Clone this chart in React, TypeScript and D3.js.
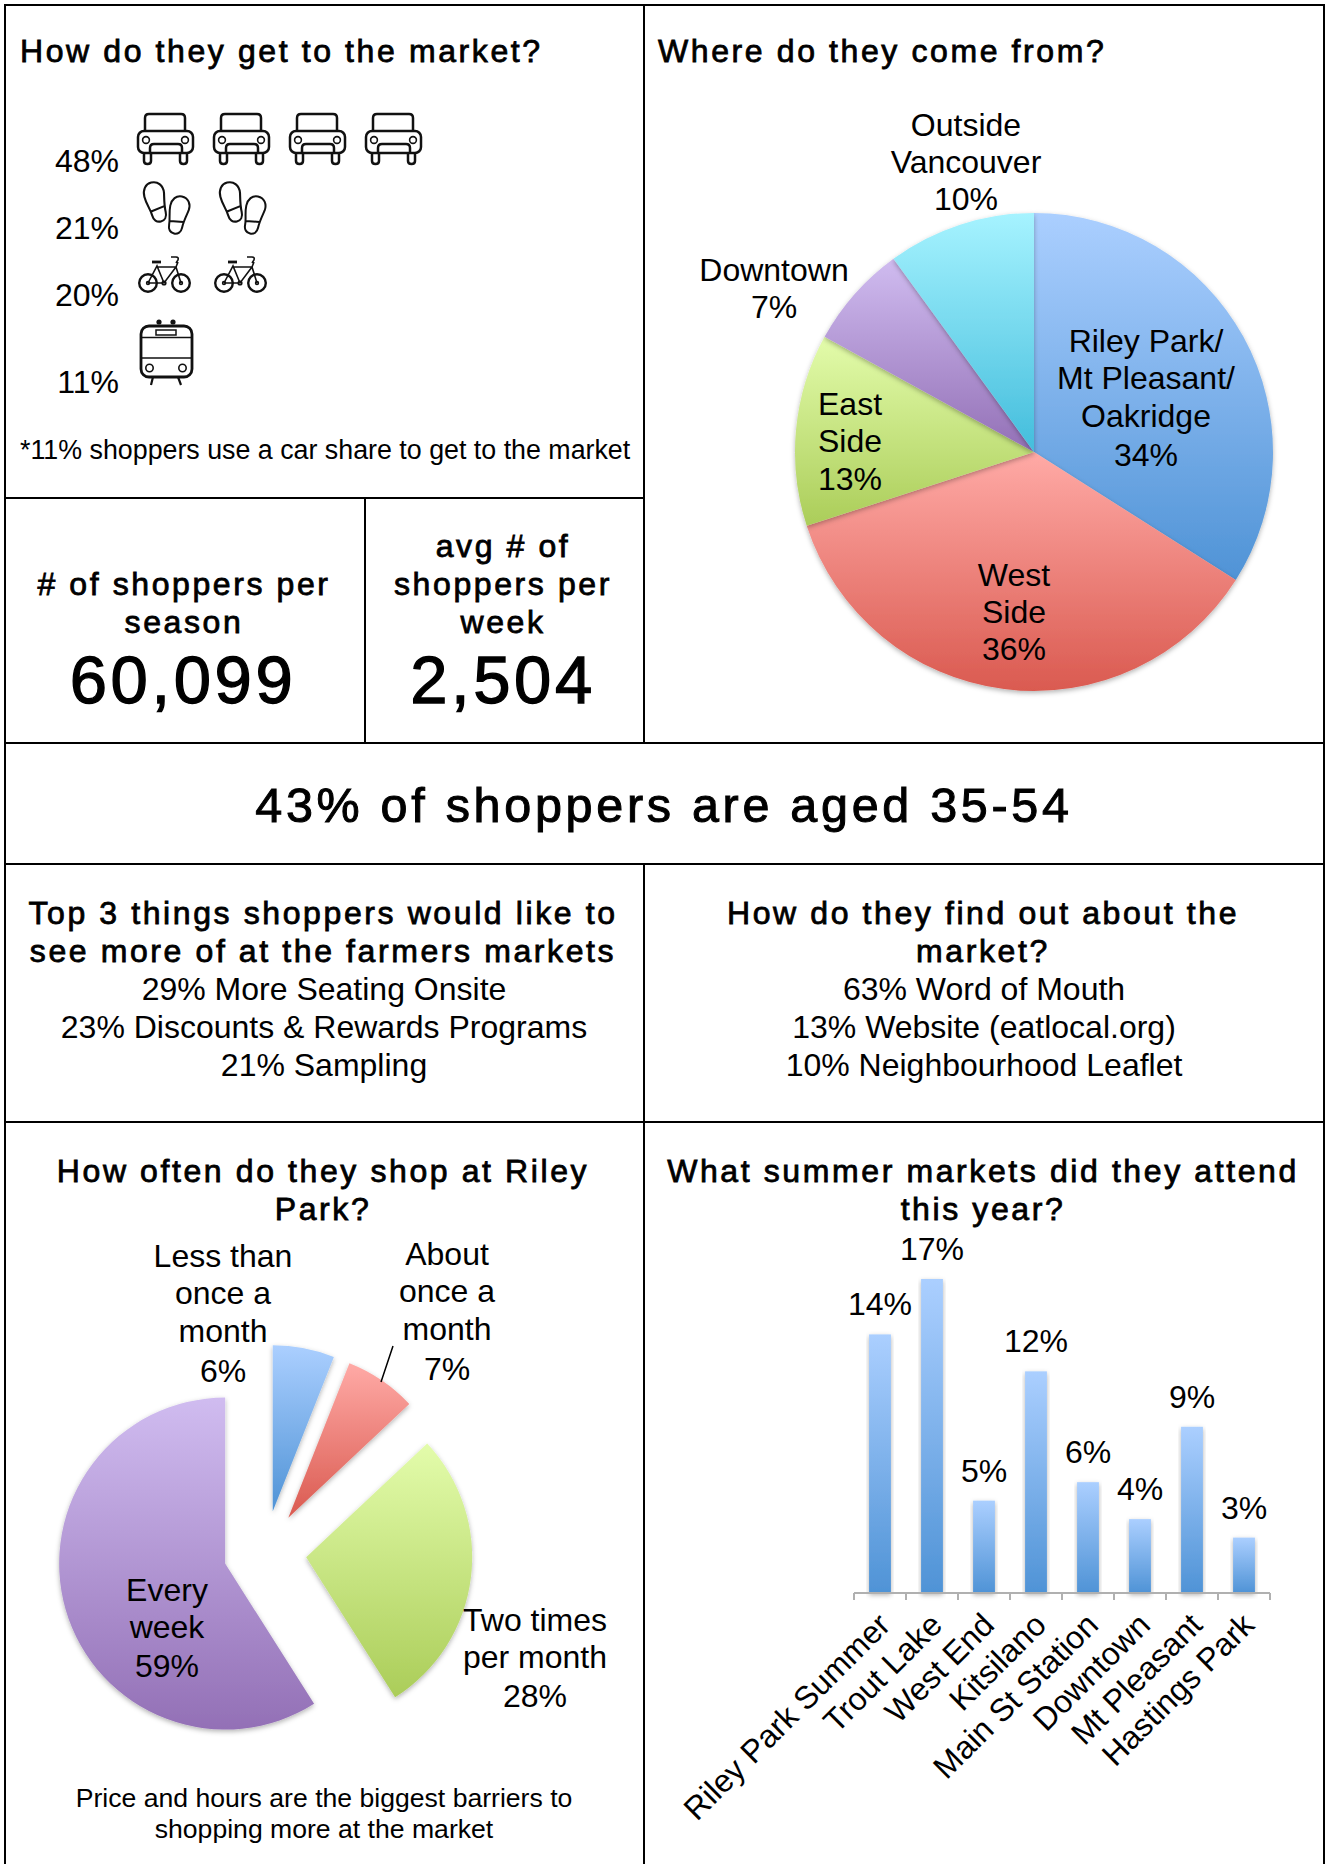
import React from "react";
import * as d3 from "d3";

// Survey figures
const originLabels = [["Riley Park/", "Mt Pleasant/", "Oakridge", "34%"], ["West", "Side", "36%"], ["East", "Side", "13%"], ["Downtown", "7%"], ["Outside", "Vancouver", "10%"]];
const originValues = [34, 36, 13, 7, 10];
const originColors = ["blue", "red", "green", "purple", "cyan"];
const frequencyValues = [6, 7, 28, 59];
const frequencyColors = ["blue", "red", "green", "purple"];
const marketNames = ["Riley Park Summer", "Trout Lake", "West End", "Kitsilano", "Main St Station", "Downtown", "Mt Pleasant", "Hastings Park"];
const marketValues = [14, 17, 5, 12, 6, 4, 9, 3];
const travelModes = ["car", "feet", "bike", "train"];
const travelShares = ["48%", "21%", "20%", "11%"];
const travelIcons = [4, 2, 2, 1];

const gradients: Record<string, [string, string]> = {
  blue: ["#abcfff", "#4f93d6"],
  red: ["#ffaaa6", "#da5a50"],
  green: ["#e3fcab", "#abcd59"],
  purple: ["#d0bcf0", "#9370b6"],
  cyan: ["#a6f3ff", "#43bddc"],
};

const BODY = "'Liberation Sans', Arial, sans-serif";
const BODY_SIZE = 32;

function Lines({ x, ys, lines, size = BODY_SIZE, anchor = "middle" }: any) {
  return (
    <g fontFamily={BODY} fontSize={size} textAnchor={anchor} fill="#000">
      {lines.map((t: string, i: number) => (
        <text key={i} x={x} y={ys[i]}>{t}</text>
      ))}
    </g>
  );
}

function Title({ x, ys, lines, size = 32, spacing = 2.6, anchor = "middle", weight = 0.8 }: any) {
  return (
    <g fontFamily={BODY} fontSize={size} textAnchor={anchor} fill="#000" stroke="#000" strokeWidth={weight} letterSpacing={spacing}>
      {lines.map((t: string, i: number) => (
        <text key={i} x={x} y={ys[i]}>{t}</text>
      ))}
    </g>
  );
}

function Car({ x, y }: any) {
  return (
    <g transform={`translate(${x},${y})`} fill="none" stroke="#111" strokeWidth={2.5}>
      <path d="M8,19 V5 Q8,1 12,1 H44 Q48,1 48,5 V19" />
      <rect x={1} y={18} width={55} height={22} rx={6} />
      <circle cx={9} cy={27} r={3.4} strokeWidth={1.6} />
      <circle cx={48} cy={27} r={3.4} strokeWidth={1.6} />
      <path d="M13,40 V35 Q13,31 17,31 H41 Q45,31 45,35 V40" />
      <path d="M7,40 V48 Q7,51 10.5,51 Q14,51 14,48 V40" />
      <path d="M43,40 V48 Q43,51 46.5,51 Q50,51 50,48 V40" />
    </g>
  );
}

const SHOE = "M0,-20 C7,-20 11,-14 10,-7 C9,-2 7,5 7,12 C7,17 4,20 0,20 C-4,20 -7,17 -7,12 C-7,6 -10,0 -10,-8 C-10,-15 -6,-20 0,-20 Z M-7,8 L7,6";

function Feet({ x, y }: any) {
  return (
    <g transform={`translate(${x},${y})`} fill="none" stroke="#111" strokeWidth={2.1}>
      <path d={SHOE} transform="translate(13,21) rotate(-14)" />
      <path d={SHOE} transform="translate(35,34) rotate(12) scale(0.95)" />
    </g>
  );
}

function Bike({ x, y }: any) {
  return (
    <g transform={`translate(${x},${y})`} fill="none" stroke="#111" strokeWidth={1.6}>
      <circle cx={10} cy={27} r={8.8} strokeWidth={2.4} />
      <circle cx={43} cy={27} r={8.8} strokeWidth={2.4} />
      <circle cx={10} cy={27} r={1.4} />
      <circle cx={43} cy={27} r={1.4} />
      <circle cx={26} cy={27} r={1.8} />
      <path d="M10,27 H24 M10,27 L19,10 L26,27 L38,11 L43,27 M19,11 H38 M38,11 L40,6" />
      <path d="M14,6 H23" strokeWidth={2.8} />
      <path d="M33,1 H38 Q41,1 40,4 L38,7" />
    </g>
  );
}

function Train({ x, y }: any) {
  return (
    <g transform={`translate(${x},${y})`} fill="none" stroke="#111" strokeWidth={2.2}>
      <circle cx={19} cy={0} r={2.6} fill="#111" stroke="none" />
      <circle cx={33} cy={0} r={2.6} fill="#111" stroke="none" />
      <rect x={1} y={4} width={51} height={51} rx={8} strokeWidth={2.8} />
      <rect x={16} y={8} width={20} height={5} strokeWidth={1.5} />
      <path d="M1,15.5 H52 M1,36 H52" strokeWidth={1.6} />
      <circle cx={9.5} cy={46} r={3.7} strokeWidth={1.6} />
      <circle cx={42.5} cy={46} r={3.7} strokeWidth={1.6} />
      <path d="M13,55 L11,63 M38,55 L41,63" />
    </g>
  );
}

const ICONS: Record<string, { draw: any; y: number; left: number; pitch: number }> = {
  car: { draw: Car, y: 113, left: 137, pitch: 76 },
  feet: { draw: Feet, y: 181, left: 143, pitch: 76 },
  bike: { draw: Bike, y: 256, left: 138, pitch: 76 },
  train: { draw: Train, y: 322, left: 140, pitch: 76 },
};

const shareBaselines = [172, 239, 306, 393];

// Pie of home neighbourhoods
const originPie = d3.pie<number>().sort(null).value((d) => d)(originValues);
const originArc = d3.arc<any>().innerRadius(0).outerRadius(239);
const ORIGIN_C = [1034, 452];

// Exploded pie of visit frequency
const freqPie = d3.pie<number>().sort(null).value((d) => d)(frequencyValues);
const freqArc = d3.arc<any>().innerRadius(0).outerRadius(166);
const FREQ_C = [265, 1552];
const EXPLODE = 41.5;

// Column chart of summer markets
const xScale = d3.scaleBand<string>().domain(marketNames).range([854, 1270]).paddingInner(0.58).paddingOuter(0.29);
const yScale = d3.scaleLinear().domain([0, 17]).range([1593, 1279]);

export default function App() {
  const xTicks = marketNames.map((_, i) => 854 + (i * (1270 - 854)) / marketNames.length).concat(1270);
  return (
    <svg width={1325} height={1864} viewBox="0 0 1325 1864" style={{ position: "absolute", left: 0, top: 0, background: "#fff" }}>
      <defs>
        {Object.entries(gradients).map(([k, [a, b]]) => (
          <linearGradient key={k} id={`g-${k}`} x1="0" y1="0" x2="0" y2="1">
            <stop offset="0" stopColor={a} />
            <stop offset="1" stopColor={b} />
          </linearGradient>
        ))}
        <filter id="soft" x="-10%" y="-10%" width="120%" height="120%">
          <feDropShadow dx="0" dy="2" stdDeviation="2.5" floodColor="#000" floodOpacity="0.3" />
        </filter>
      </defs>

      {/* Panel rules */}
      <g stroke="#000" strokeWidth={2} fill="none">
        <rect x={5} y={5} width={1319} height={1880} />
        <path d="M644,5 V743 M5,498 H644 M365,498 V743 M5,743 H1324 M5,864 H1324 M644,864 V1864 M5,1122 H1324" />
      </g>

      {/* Getting to the market */}
      <Title x={20} ys={[62]} lines={["How do they get to the market?"]} anchor="start" />
      {travelModes.map((m, r) => {
        const icon = ICONS[m];
        const Draw = icon.draw;
        return (
          <g key={m}>
            <Lines x={119} ys={[shareBaselines[r]]} lines={[travelShares[r]]} anchor="end" />
            {d3.range(travelIcons[r]).map((i) => (
              <Draw key={i} x={icon.left + i * icon.pitch} y={icon.y} />
            ))}
          </g>
        );
      })}
      <Lines x={20} ys={[459]} lines={["*11% shoppers use a car share to get to the market"]} size={26.8} anchor="start" />

      {/* Shopper counts */}
      <Title x={184} ys={[595, 633]} lines={["# of shoppers per", "season"]} />
      <Title x={503} ys={[557, 595, 633]} lines={["avg # of", "shoppers per", "week"]} />
      <Title x={183} ys={[703]} lines={["60,099"]} size={67} spacing={3.6} weight={1.3} />
      <Title x={503} ys={[703]} lines={["2,504"]} size={67} spacing={3.6} weight={1.3} />
      <Title x={664} ys={[822]} lines={["43% of shoppers are aged 35-54"]} size={48.5} spacing={3.7} weight={1} />

      {/* Where they come from */}
      <Title x={658} ys={[62]} lines={["Where do they come from?"]} anchor="start" />
      <g transform={`translate(${ORIGIN_C[0]},${ORIGIN_C[1]})`}>
        {originPie.map((s, i) => (
          <path key={i} d={originArc(s) as string} fill={`url(#g-${originColors[i]})`} filter="url(#soft)" />
        ))}
      </g>
      <Lines x={1146} ys={[352, 389, 427, 466]} lines={originLabels[0]} />
      <Lines x={1014} ys={[586, 623, 660]} lines={originLabels[1]} />
      <Lines x={850} ys={[415, 452, 490]} lines={originLabels[2]} />
      <Lines x={774} ys={[281, 318]} lines={originLabels[3]} />
      <Lines x={966} ys={[136, 173, 210]} lines={originLabels[4]} />

      {/* Wish list and discovery */}
      <Title x={323} ys={[924, 962]} lines={["Top 3 things shoppers would like to", "see more of at the farmers markets"]} />
      <Lines x={324} ys={[1000, 1038, 1076]} lines={["29% More Seating Onsite", "23% Discounts & Rewards Programs", "21% Sampling"]} />
      <Title x={983} ys={[924, 962]} lines={["How do they find out about the", "market?"]} />
      <Lines x={984} ys={[1000, 1038, 1076]} lines={["63% Word of Mouth", "13% Website (eatlocal.org)", "10% Neighbourhood Leaflet"]} />

      {/* Visit frequency */}
      <Title x={323} ys={[1182, 1220]} lines={["How often do they shop at Riley", "Park?"]} />
      <g>
        {freqPie.map((s, i) => {
          const [mx, my] = freqArc.centroid(s);
          const len = Math.hypot(mx, my);
          const tx = FREQ_C[0] + (mx / len) * EXPLODE;
          const ty = FREQ_C[1] + (my / len) * EXPLODE;
          return <path key={i} transform={`translate(${tx},${ty})`} d={freqArc(s) as string} fill={`url(#g-${frequencyColors[i]})`} filter="url(#soft)" />;
        })}
      </g>
      <path d="M393,1346 L381,1382" stroke="#000" strokeWidth={1.5} />
      <Lines x={223} ys={[1267, 1304, 1342, 1382]} lines={["Less than", "once a", "month", "6%"]} />
      <Lines x={447} ys={[1265, 1302, 1340, 1380]} lines={["About", "once a", "month", "7%"]} />
      <Lines x={167} ys={[1601, 1638, 1677]} lines={["Every", "week", "59%"]} />
      <Lines x={535} ys={[1631, 1668, 1707]} lines={["Two times", "per month", "28%"]} />
      <Lines x={324} ys={[1807, 1838]} lines={["Price and hours are the biggest barriers to", "shopping more at the market"]} size={26.6} />

      {/* Summer markets */}
      <Title x={983} ys={[1182, 1220]} lines={["What summer markets did they attend", "this year?"]} />
      {marketNames.map((n, i) => {
        const x = xScale(n) as number;
        const y = yScale(marketValues[i]);
        return (
          <g key={n}>
            <rect x={x} y={y} width={xScale.bandwidth()} height={1593 - y} fill="url(#g-blue)" filter="url(#soft)" />
            <text x={x + xScale.bandwidth() / 2} y={y - 19} textAnchor="middle" fontFamily={BODY} fontSize={BODY_SIZE}>{marketValues[i]}%</text>
            <text transform={`translate(${x + xScale.bandwidth() / 2 + 12},${1627}) rotate(-45)`} textAnchor="end" fontFamily={BODY} fontSize={BODY_SIZE}>{n}</text>
          </g>
        );
      })}
      <path d={`M854,1593 H1270 ${xTicks.map((t) => `M${t},1593 V1600`).join(" ")}`} stroke="#b0b0b0" strokeWidth={2} fill="none" />
    </svg>
  );
}
